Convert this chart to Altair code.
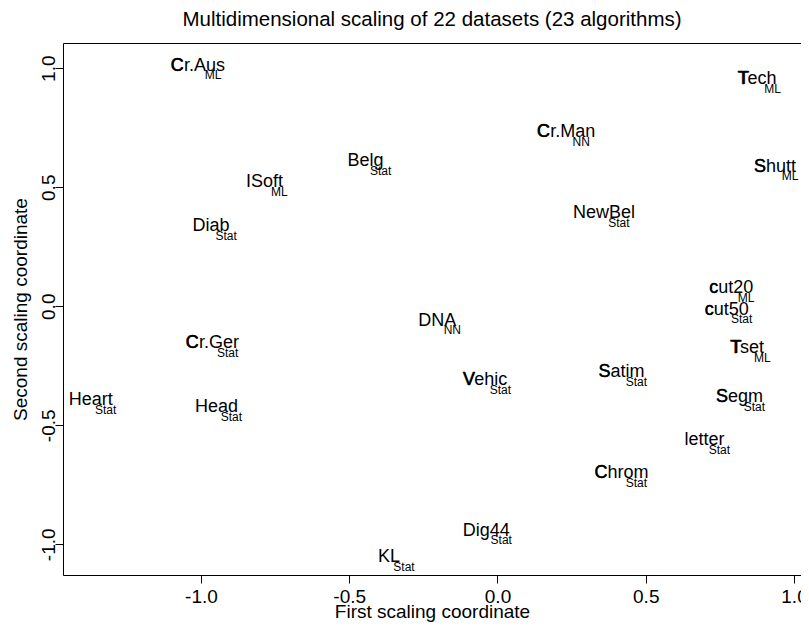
import altair as alt
import pandas as pd

# ---- data ----
names = ["Cr.Aus", "Belg", "ISoft", "Diab", "Tech", "Cr.Man", "Shutt", "NewBel",
         "cut20", "cut50", "DNA", "Cr.Ger", "Heart", "Head", "KL", "Vehic",
         "Satim", "Tset", "Segm", "letter", "Chrom", "Dig44"]
groups = ["ML", "Stat", "ML", "Stat", "ML", "NN", "ML", "Stat",
          "ML", "Stat", "NN", "Stat", "Stat", "Stat", "Stat", "Stat",
          "Stat", "ML", "Stat", "Stat", "Stat", "Stat"]
first_coord = [-1.010, -0.445, -0.786, -0.966, 0.877, 0.232, 0.936, 0.359,
               0.788, 0.773, -0.203, -0.961, -1.372, -0.948, -0.366, -0.041,
               0.418, 0.843, 0.816, 0.698, 0.418, -0.038]
second_coord = [1.017, 0.616, 0.528, 0.342, 0.959, 0.739, 0.593, 0.397,
                0.081, -0.008, -0.054, -0.149, -0.389, -0.416, -1.048, -0.305,
                -0.271, -0.171, -0.374, -0.557, -0.696, -0.936]
emphasis = [True, False, False, False, True, True, True, False,
            True, True, False, True, False, False, False, True,
            True, True, True, False, True, False]
tick_values = [-1.0, -0.5, 0.0, 0.5, 1.0]
title_text = "Multidimensional scaling of 22 datasets (23 algorithms)"

FONT = "Liberation Sans"
LABEL_SIZE = 18
W, H = 738, 532

# Arial / Liberation Sans advance widths (1/1000 em), used to find the first glyph
ADV = {' ': 278, '.': 278, '0': 556, '2': 556, '4': 556, '5': 556,
       'A': 667, 'B': 667, 'C': 722, 'D': 722, 'G': 778, 'H': 722, 'I': 278,
       'K': 667, 'L': 611, 'M': 833, 'N': 722, 'S': 667, 'T': 611, 'V': 667,
       'a': 556, 'b': 556, 'c': 500, 'd': 556, 'e': 556, 'f': 278, 'g': 556,
       'h': 556, 'i': 222, 'l': 222, 'm': 833, 'n': 556, 'o': 556, 'r': 333,
       's': 500, 't': 278, 'u': 556, 'w': 722}


def half_width(s):
    return sum(ADV.get(c, 556) for c in s) / 1000 * LABEL_SIZE / 2


df = pd.DataFrame({
    "name": names,
    "group": groups,
    "x": first_coord,
    "y": second_coord,
    "emph": emphasis,
    "first": [n[0] for n in names],
    "half": [half_width(n) for n in names],
})

label_expr = "(datum.value < 0 ? '-' : '') + format(abs(datum.value), '.1f')"

x_enc = alt.X(
    "x:Q",
    scale=alt.Scale(domain=[-1.4654, 1.0236], nice=False, zero=False),
    axis=alt.Axis(
        values=tick_values, labelExpr=label_expr, title="First scaling coordinate",
        grid=False, domain=False, tickSize=8, tickColor="black", labelPadding=4,
        labelFontSize=19, labelColor="black", titleFontSize=19, titleColor="black",
        titleFontWeight="normal", titleY=42.5, titleBaseline="alphabetic",
    ),
)
y_enc = alt.Y(
    "y:Q",
    scale=alt.Scale(domain=[-1.129, 1.106], nice=False, zero=False),
    axis=alt.Axis(
        values=tick_values, labelExpr=label_expr, title="Second scaling coordinate",
        grid=False, domain=False, tickSize=8, tickColor="black", labelPadding=1,
        labelAngle=270, labelAlign="center", labelBaseline="alphabetic",
        labelFontSize=19, labelColor="black", titleFontSize=19, titleColor="black",
        titleFontWeight="normal", titleX=-36.5, titleY=H / 2, titleAngle=270,
        titleAlign="center", titleBaseline="alphabetic",
    ),
)

base = alt.Chart(df).encode(x=x_enc, y=y_enc)

main = base.mark_text(
    font=FONT, fontSize=LABEL_SIZE, align="center", baseline="alphabetic",
    dy=6.5, color="black",
).encode(text="name:N")

sub = base.mark_text(
    font=FONT, fontSize=12, align="center", baseline="alphabetic",
    dx=15, dy=15.3, color="black",
).encode(text="group:N")

first = base.transform_filter("datum.emph").mark_text(
    font=FONT, fontSize=LABEL_SIZE, align="left", baseline="alphabetic",
    dy=6.5, dx=alt.ExprRef(expr="-datum.half"), color="black",
    stroke="black", strokeWidth=0.3,
).encode(text="first:N")

title = alt.Chart(pd.DataFrame({"t": [title_text]})).mark_text(
    font=FONT, fontSize=20.5, align="center", baseline="alphabetic", color="black",
).encode(text="t:N", x=alt.value(W / 2), y=alt.value(-17.3))

chart = alt.layer(main, sub, first, title).properties(
    width=W,
    height=H,
    autosize=alt.AutoSizeParams(type="none"),
    padding={"left": 55, "top": 35, "right": 0, "bottom": 47},
).configure(
    font=FONT, background="white",
).configure_view(
    stroke="black", strokeWidth=1,
)

chart.save("out.html", embed_options={"renderer": "svg", "actions": False})
